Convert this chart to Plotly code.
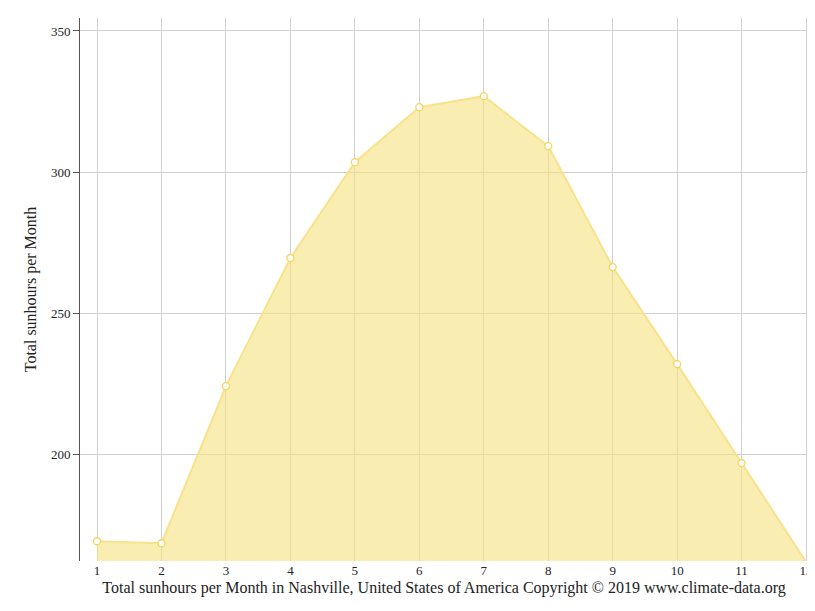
import plotly.graph_objects as go

months = [1, 2, 3, 4, 5, 6, 7, 8, 9, 10, 11, 12]
sunhours = [169.1, 168.4, 224.1, 269.5, 303.5, 323.0, 326.9, 309.2, 266.3, 231.9, 196.8, 161.8]

fig = go.Figure()
fig.add_trace(go.Scatter(
    x=months,
    y=sunhours,
    mode="lines+markers",
    fill="tozeroy",
    fillcolor="rgba(246,225,125,0.6)",
    line=dict(color="#f8e28c", width=2),
    marker=dict(size=7, color="white", line=dict(color="#f5d55a", width=1.3)),
    showlegend=False,
    cliponaxis=False,
))

fig.update_layout(
    width=815,
    height=611,
    margin=dict(l=72, r=15, t=10, b=58),
    plot_bgcolor="white",
    paper_bgcolor="white",
    font=dict(family="Liberation Serif, serif", size=14, color="#222"),
    xaxis=dict(
        range=[0.736, 12.03],
        tickvals=months,
        showgrid=True,
        gridcolor="#d0d0d0",
        zeroline=False,
        ticks="",
        automargin=False,
        title=dict(text="Total sunhours per Month in Nashville, United States of America Copyright © 2019 www.climate-data.org",
                   font=dict(size=16), standoff=4),
        tickfont=dict(size=13),
    ),
    yaxis=dict(
        range=[162.1, 354.6],
        tickvals=[200, 250, 300, 350],
        showgrid=True,
        gridcolor="#d0d0d0",
        zeroline=False,
        showline=True,
        linecolor="#555",
        ticks="outside",
        ticklen=6,
        tickcolor="#555",
        automargin=False,
        title=dict(text="Total sunhours per Month", font=dict(size=16), standoff=10),
        tickfont=dict(size=13),
    ),
)

fig.write_html("out.html")
